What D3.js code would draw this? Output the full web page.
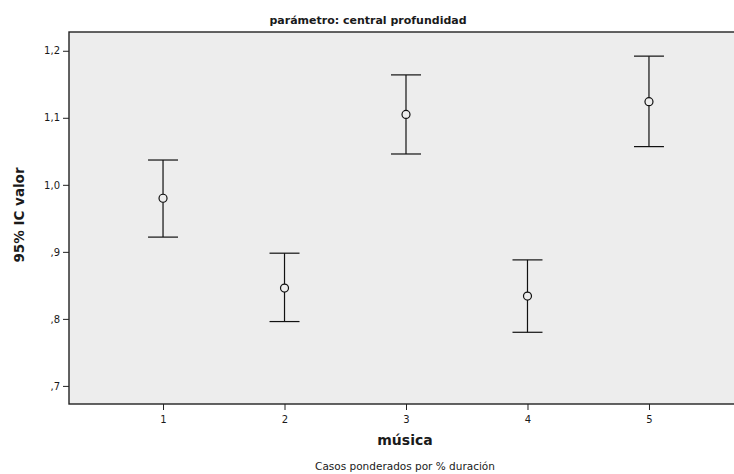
<!DOCTYPE html>
<html>
<head>
<meta charset="utf-8">
<script src="https://cdn.jsdelivr.net/npm/d3@7"></script>
<style>
  html, body { margin: 0; padding: 0; background: #ffffff; }
  svg { display: block; }
  text { font-family: "DejaVu Sans", Verdana, sans-serif; fill: #1a1a1a; }
</style>
</head>
<body>
<svg id="chart" width="734" height="474"></svg>
<script>
// Groups of the "música" factor
const categories = ["1", "2", "3", "4", "5"];
// Mean value per group and its 95% confidence interval bounds
const means = [0.980, 0.846, 1.105, 0.834, 1.124];
const lower = [0.922, 0.796, 1.046, 0.780, 1.057];
const upper = [1.037, 0.898, 1.164, 0.888, 1.192];
// Y-axis tick values
const yTicks = [0.7, 0.8, 0.9, 1.0, 1.1, 1.2];

const rows = categories.map((c, i) => ({ c, m: means[i], lo: lower[i], hi: upper[i] }));

const svg = d3.select("#chart");
const margin = { left: 69, top: 32, right: 743, bottom: 404 };

const x = d3.scalePoint()
  .domain(categories)
  .range([margin.left, margin.right])
  .padding(0.774);

const y = d3.scaleLinear()
  .domain([0.673, 1.228])
  .range([margin.bottom, margin.top]);

// Plot background
svg.append("rect")
  .attr("x", margin.left).attr("y", margin.top)
  .attr("width", margin.right - margin.left)
  .attr("height", margin.bottom - margin.top)
  .attr("fill", "#ededed")
  .attr("stroke", "#222")
  .attr("stroke-width", 1.4);

// Spanish decimal comma labels, leading zero dropped
const fmt = v => {
  const s = d3.format(".1f")(v).replace(".", ",");
  return s.startsWith("0") ? s.slice(1) : s;
};

const yAxis = svg.append("g")
  .attr("transform", `translate(${margin.left},0)`)
  .call(d3.axisLeft(y).tickValues(yTicks).tickFormat(fmt).tickSize(6).tickPadding(3));
yAxis.select(".domain").remove();
yAxis.selectAll("line").attr("stroke", "#222");
yAxis.selectAll("text").style("font-size", "10px").attr("fill", "#1a1a1a");

const xAxis = svg.append("g")
  .attr("transform", `translate(0,${margin.bottom})`)
  .call(d3.axisBottom(x).tickSize(6).tickPadding(6));
xAxis.select(".domain").remove();
xAxis.selectAll("line").attr("stroke", "#222");
xAxis.selectAll("text").style("font-size", "10px").attr("fill", "#1a1a1a");

// Error bars
const capW = 15;
const g = svg.append("g").attr("stroke", "#111").attr("stroke-width", 1.2).attr("fill", "none");
rows.forEach(d => {
  const cx = x(d.c);
  g.append("line").attr("x1", cx).attr("x2", cx).attr("y1", y(d.hi)).attr("y2", y(d.lo));
  g.append("line").attr("x1", cx - capW).attr("x2", cx + capW).attr("y1", y(d.hi)).attr("y2", y(d.hi));
  g.append("line").attr("x1", cx - capW).attr("x2", cx + capW).attr("y1", y(d.lo)).attr("y2", y(d.lo));
  g.append("circle").attr("cx", cx).attr("cy", y(d.m)).attr("r", 4)
    .attr("fill", "#ededed");
});

// Titles
svg.append("text")
  .attr("x", 368).attr("y", 24)
  .attr("text-anchor", "middle")
  .style("font-size", "11px").style("font-weight", "bold")
  .text("parámetro: central profundidad");

svg.append("text")
  .attr("transform", "translate(24,215) rotate(-90)")
  .attr("text-anchor", "middle")
  .style("font-size", "13.5px").style("font-weight", "bold")
  .text("95% IC valor");

svg.append("text")
  .attr("x", 405).attr("y", 445)
  .attr("text-anchor", "middle")
  .style("font-size", "14px").style("font-weight", "bold")
  .text("música");

svg.append("text")
  .attr("x", 405).attr("y", 470)
  .attr("text-anchor", "middle")
  .style("font-size", "10.5px")
  .text("Casos ponderados por % duración");
</script>
</body>
</html>
